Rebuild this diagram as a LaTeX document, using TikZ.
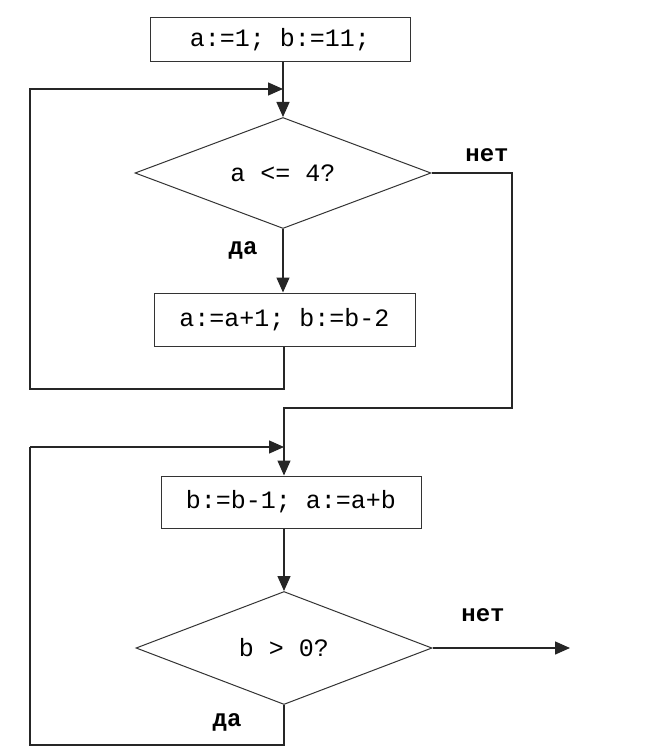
\documentclass[tikz,border=0pt]{standalone}
\usepackage{fontspec}
\setmonofont{Liberation Mono}
\usetikzlibrary{shapes.geometric,arrows.meta}
\begin{document}
\begin{tikzpicture}[x=1pt,y=-1pt,
  every node/.style={font=\ttfamily\fontsize{25}{28}\selectfont},
  procbox/.style={draw=black!80,line width=1pt,rectangle,inner sep=0pt},
  decision/.style={draw=black!80,line width=1pt,diamond,inner sep=0pt,aspect=2.65},
  conn/.style={line width=1.4pt,black!85},
  arr/.style={conn,-{Triangle[length=15pt,width=13pt]}},
  lbl/.style={font=\ttfamily\bfseries\fontsize{24}{26}\selectfont}]
\useasboundingbox[fill=white] (0,0) rectangle (651,751);
\node[procbox,minimum width=260pt,minimum height=44pt] (b1) at (280,40) {a:=1; b:=11;};
\node[decision,minimum width=296pt,minimum height=111pt] (d1) at (283,173) {a <= 4?};
\node[procbox,minimum width=261pt,minimum height=53pt] (b2) at (284.5,319.5) {a:=a+1; b:=b-2};
\node[procbox,minimum width=260pt,minimum height=52pt] (b3) at (291,502) {b:=b-1; a:=a+b};
\node[decision,minimum width=296pt,minimum height=113pt] (d2) at (284,648) {b > 0?};
\node[lbl] (n1) at (487,155) {нет};
\node[lbl] (y1) at (243,250) {да};
\node[lbl] (n2) at (483,615) {нет};
\node[lbl] (y2) at (227,722) {да};
% coordinates
\coordinate (j1) at (283,89);
\coordinate (t1) at (284,389);
\coordinate (t2) at (30,389);
\coordinate (t3) at (30,89);
\coordinate (r1) at (512,173);
\coordinate (r2) at (512,408);
\coordinate (r3) at (284,408);
\coordinate (j2) at (284,447);
\coordinate (u1) at (284,745);
\coordinate (u2) at (30,745);
\coordinate (u3) at (30,447);
\coordinate (e1) at (570,648);
% connectors
\draw[arr] (b1.south -| d1.north) -- (d1.north);
\draw[arr] (d1.south) -- (b2.north -| d1.south);
\draw[arr] (t1 |- b2.south) -- (t1) -- (t2) -- (t3) -- (j1);
\draw[arr] (d1.east) -- (r1) -- (r2) -- (r3) -- (b3.north -| r3);
\draw[arr] (u3) -- (j2);
\draw[arr] (b3.south -| d2.north) -- (d2.north);
\draw[conn] (d2.south) -- (u1) -- (u2) -- (u3);
\draw[arr] (d2.east) -- (e1);
\end{tikzpicture}
\end{document}
